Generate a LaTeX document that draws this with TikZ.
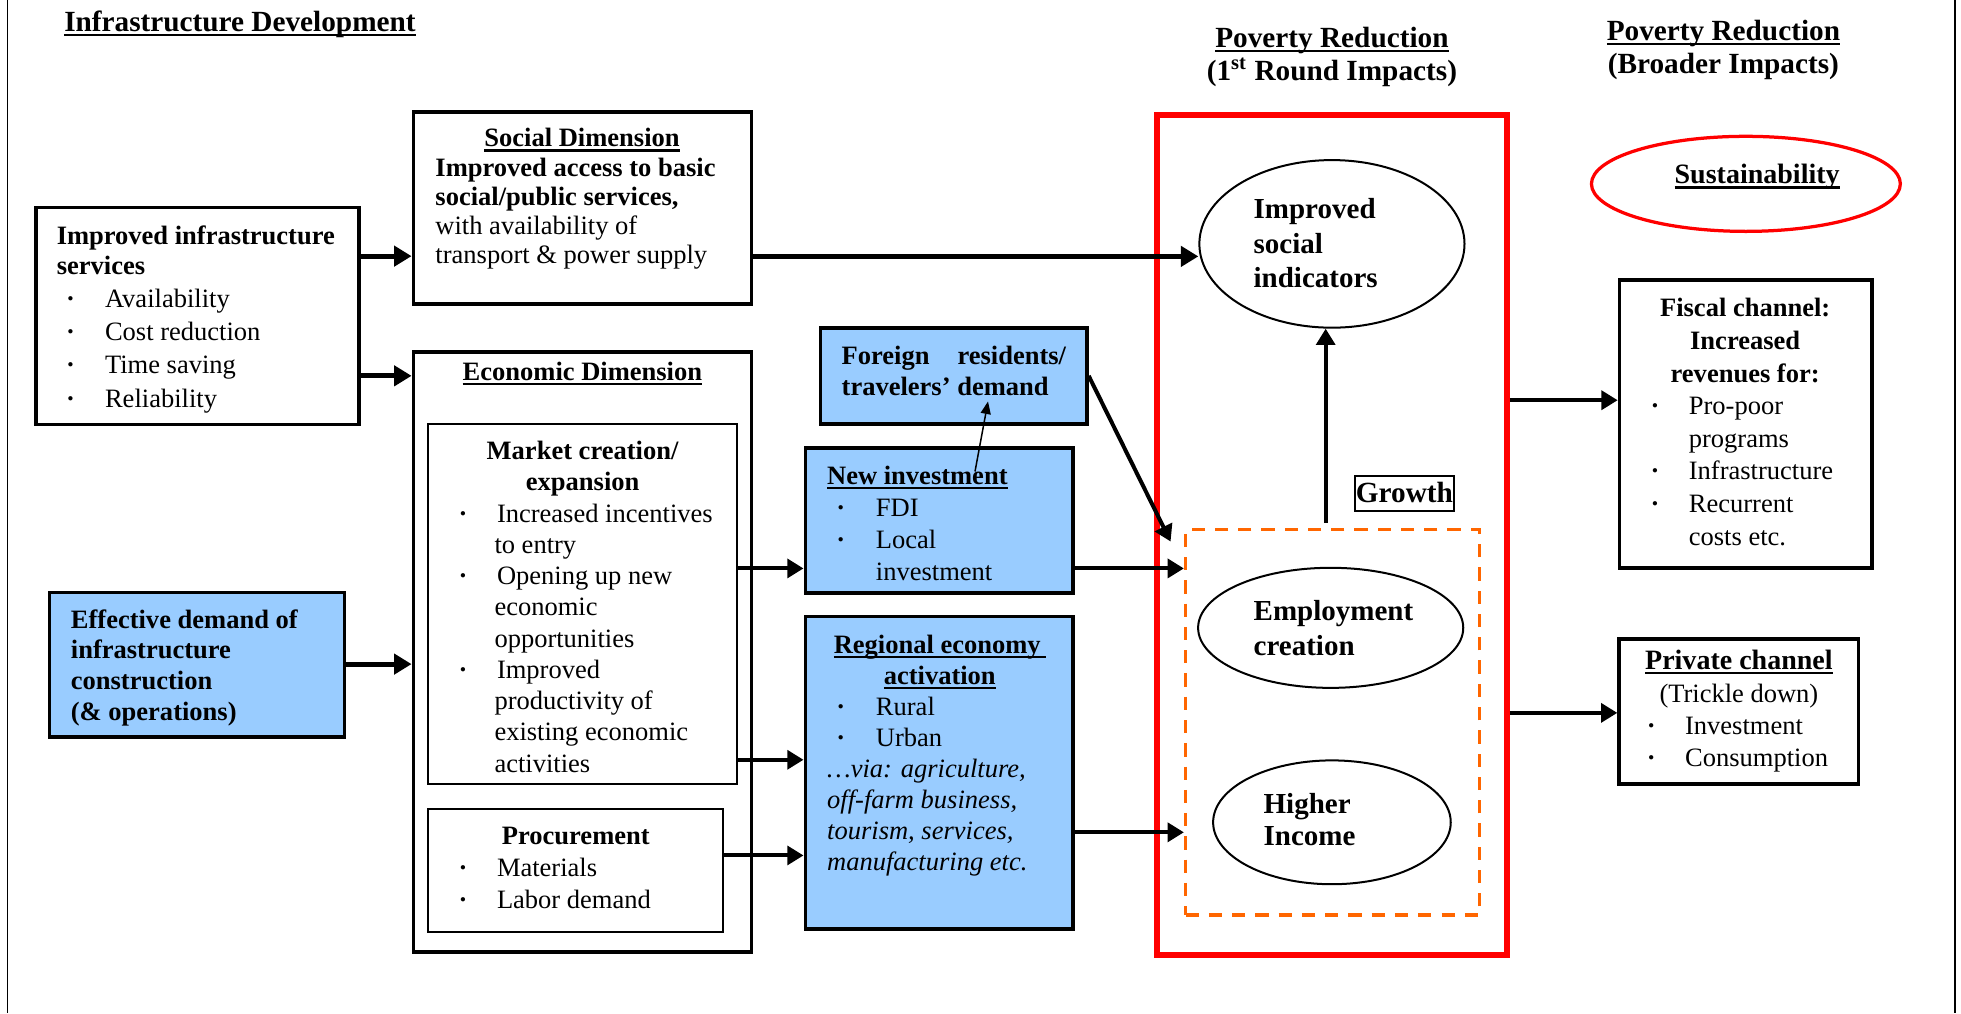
\documentclass[tikz,border=0pt]{standalone}
\usepackage{fontspec}
\setmainfont{Liberation Serif}
\usetikzlibrary{arrows.meta,fit,shapes.geometric}
\newsavebox\ulbox
\newcommand\myul[1]{\sbox\ulbox{#1}\rlap{\rule[-1.9pt]{\wd\ulbox}{0.9pt}}\usebox\ulbox}
\definecolor{lblue}{HTML}{99CCFF}
\definecolor{dorange}{HTML}{FF6600}
\newcommand\tst{\rule{0pt}{9pt}}
\newcommand\bli[3]{\hspace*{#1}\makebox[#2][l]{{\bfseries ·}}#3}
\tikzset{
  x=0.5pt, y=-0.5pt,
  bx/.style={draw, line width=1.5pt, inner sep=0pt},
  thinbx/.style={draw, line width=0.8pt, inner sep=0pt},
  txt/.style={inner sep=0pt, anchor=north west, align=left},
  ctxt/.style={inner sep=0pt, anchor=north, align=center},
  fsz/.style={font=\fontsize{10.6}{#1}\selectfont},
  arrA/.style={line width=2pt, -{Triangle[length=7pt,width=8pt]}},
  arrB/.style={line width=1.6pt, -{Triangle[length=6.5pt,width=7.5pt]}},
  arrC/.style={line width=0.6pt, -{Triangle[length=5pt,width=4pt]}},
  ell/.style={draw, ellipse, line width=0.8pt, inner sep=0pt},
}
\begin{document}
\begin{tikzpicture}
\useasboundingbox (0,0) rectangle (1568,810);
% page side lines
\draw[line width=0.7pt] (5.9,0) -- (5.9,810);
\draw[line width=0.7pt] (1563,0) -- (1563,810);

% headers
\node[txt, font=\fontsize{11.7}{13.25}\selectfont\bfseries] (hInfra) at (51,6.5) {\tst\myul{Infrastructure Development}};
\node[ctxt, font=\fontsize{11.7}{13.25}\selectfont\bfseries] (hPov1) at (1065,19.5) {\tst\myul{Poverty Reduction}\\(1\textsuperscript{st} Round Impacts)};
\node[ctxt, font=\fontsize{11.7}{13.25}\selectfont\bfseries] (hPov2) at (1378,14) {\tst\myul{Poverty Reduction}\\(Broader Impacts)};

% improved infrastructure services
\node[bx, fit={(28.6,166) (287,339.5)}] (infra) {};
\node[txt, fsz=13.3] (infraT) at (45,176.7) {\tst\textbf{Improved infrastructure}\\[-1.3pt]
 \textbf{services}\\
 \bli{3.7pt}{15.6pt}{Availability}\\
 \bli{3.7pt}{15.6pt}{Cost reduction}\\
 \bli{3.7pt}{15.6pt}{Time saving}\\
 \bli{3.7pt}{15.6pt}{Reliability}};

% effective demand
\node[bx, fill=lblue, fit={(39.6,473.75) (275.5,589.4)}] (eff) {};
\node[txt, font=\fontsize{10.6}{12.25}\selectfont\bfseries] (effT) at (56.3,484) {\tst Effective demand of\\infrastructure\\construction\\(\& operations)};

% social dimension
\node[bx, fit={(330.6,89.3) (600.8,243)}] (social) {};
\node[txt, fsz=11.7] (socialT) at (347.8,99) {\tst\makebox[117.2pt][c]{\textbf{\myul{Social Dimension}}}\\
 \textbf{Improved access to basic}\\
 \textbf{social/public services,}\\
 with availability of\\
 transport \& power supply};

% economic dimension
\node[bx, fit={(330.6,281.3) (600.8,761)}] (econ) {};
\node[ctxt, font=\fontsize{10.6}{13}\selectfont\bfseries] (econT) at (465.7,286) {\tst\myul{Economic Dimension}};

\node[thinbx, fit={(342,339.4) (589,627)}] (market) {};
\node[txt, fsz=12.5] (marketT) at (366.4,349) {\tst\makebox[99.1pt][c]{\textbf{Market creation/}}\\
 \makebox[99.1pt][c]{\textbf{expansion}}\\
 \bli{0pt}{15.3pt}{Increased incentives}\\
 \hspace*{14.3pt}to entry\\
 \bli{0pt}{15.3pt}{Opening up new}\\
 \hspace*{14.3pt}economic\\
 \hspace*{14.3pt}opportunities\\
 \bli{0pt}{15.3pt}{Improved}\\
 \hspace*{14.3pt}productivity of\\
 \hspace*{14.3pt}existing economic\\
 \hspace*{14.3pt}activities};

\node[thinbx, fit={(342,646.6) (578,745.6)}] (proc) {};
\node[txt, fsz=12.8] (procT) at (366.4,656.7) {\tst\makebox[93.6pt][c]{\textbf{Procurement}}\\
 \bli{0pt}{15.3pt}{Materials}\\
 \bli{0pt}{15.3pt}{Labor demand}};

% blue middle boxes
\node[bx, fill=lblue, fit={(656,262) (869,339)}] (foreign) {};
\node[txt, font=\fontsize{10.6}{12.5}\selectfont\bfseries] (foreignT) at (672.6,273) {\tst\makebox[89.7pt][s]{Foreign\hfill residents/}\\travelers’ demand};

\node[bx, fill=lblue, fit={(644,358) (858,474)}] (newinv) {};
\node[txt, fsz=12.85] (newinvT) at (661,369) {\tst\textbf{\myul{New investment}}\\
 \bli{3.7pt}{15.8pt}{FDI}\\
 \bli{3.7pt}{15.8pt}{Local}\\
 \hspace*{19.5pt}investment};

\node[bx, fill=lblue, fit={(644,493) (858,743)}] (regional) {};
\node[txt, fsz=12.43] (regionalT) at (661,504) {\tst\makebox[90pt][c]{\textbf{\myul{Regional economy\hspace{2pt}}}}\\
 \makebox[90pt][c]{\textbf{\myul{activation}}}\\
 \bli{3.7pt}{15.8pt}{Rural}\\
 \bli{3.7pt}{15.8pt}{Urban}\\
 \textit{…via: agriculture,}\\
 \textit{off-farm business,}\\
 \textit{tourism, services,}\\
 \textit{manufacturing etc.}};

% poverty reduction first round
\node[draw=red, line width=2.2pt, inner sep=0pt, fit={(925,92) (1205,763.6)}] (redbox) {};
\node[draw=dorange, line width=1.35pt, dash pattern=on 5.3pt off 4pt, inner sep=0pt, fit={(948,423.6) (1183,731.5)}] (growthbox) {};

\node[ell, minimum width=106pt, minimum height=67pt] (socE) at (1065,195) {};
\node[txt, font=\fontsize{11.6}{13.6}\selectfont\bfseries] (socET) at (1002,156.7) {\tst Improved\\social\\indicators};

\node[ell, minimum width=106pt, minimum height=48pt] (empE) at (1064,502) {};
\node[txt, font=\fontsize{11.6}{13.8}\selectfont\bfseries] (empET) at (1002,478) {\tst Employment\\creation};

\node[ell, minimum width=95pt, minimum height=49.5pt] (incE) at (1065,657.5) {};
\node[txt, font=\fontsize{11.6}{13}\selectfont\bfseries] (incET) at (1010,632) {\tst Higher\\Income};

\node[draw, line width=0.75pt, inner xsep=0.3pt, inner ysep=1pt, text height=9.5pt, text depth=2.5pt, font=\fontsize{11.7}{13}\selectfont\bfseries, anchor=north] (growth) at (1123,380) {Growth};

% broader impacts
\node[ell, draw=red, line width=1.3pt, minimum width=123.5pt, minimum height=38pt] (sustE) at (1396,147) {};
\node[ctxt, font=\fontsize{11.2}{13}\selectfont\bfseries] (sustT) at (1405,128.7) {\tst\myul{Sustainability}};

\node[bx, fit={(1295,224) (1497,454.4)}] (fiscal) {};
\node[txt, fsz=13.03] (fiscalT) at (1319.4,235) {\tst\makebox[75.6pt][c]{\textbf{Fiscal channel:}}\\
 \makebox[75.6pt][c]{\textbf{Increased}}\\
 \makebox[75.6pt][c]{\textbf{revenues for:}}\\
 \bli{0pt}{15.3pt}{Pro-poor}\\
 \hspace*{15.3pt}programs\\
 \bli{0pt}{15.3pt}{Infrastructure}\\
 \bli{0pt}{15.3pt}{Recurrent}\\
 \hspace*{15.3pt}costs etc.};

\node[bx, fit={(1294.7,511) (1486,626.8)}] (private) {};
\node[txt, fsz=12.95] (privateT) at (1316.4,517) {\tst\makebox[73.6pt][c]{\fontsize{11.2}{12.95}\selectfont\bfseries\myul{Private channel}}\\
 \makebox[73.6pt][c]{(Trickle down)}\\
 \bli{0pt}{15.3pt}{Investment}\\
 \bli{0pt}{15.3pt}{Consumption}};

% connectors
\coordinate (yA) at (0,204.8);
\coordinate (yB) at (0,300.5);
\coordinate (yC) at (0,531);
\coordinate (yD) at (0,205);
\coordinate (yE) at (0,454.5);
\coordinate (yF) at (0,607.5);
\coordinate (yG) at (0,684);
\coordinate (yH) at (0,665.5);
\coordinate (yI) at (0,320);
\coordinate (yJ) at (0,570);
\coordinate (diagEnd) at (936,433);
\coordinate (gStart) at (1060,418);
\coordinate (tA) at (779.6,377);
\coordinate (tB) at (790,321);

\draw[arrA] (infra.east |- yA) -- (social.west |- yA);
\draw[arrA] (infra.east |- yB) -- (econ.west |- yB);
\draw[arrA] (eff.east |- yC) -- (econ.west |- yC);
\draw[arrA] (social.east |- yD) -- (socE.west |- yD);
\draw[arrB] (market.east |- yE) -- (newinv.west |- yE);
\draw[arrB] (market.east |- yF) -- (regional.west |- yF);
\draw[arrB] (proc.east |- yG) -- (regional.west |- yG);
\draw[arrB] (newinv.east |- yE) -- (growthbox.west |- yE);
\draw[arrB] (regional.east |- yH) -- (growthbox.west |- yH);
\draw[arrB] (foreign.east) -- (diagEnd);
\draw[arrB] (gStart) -- (gStart |- socE.south);
\draw[arrB] (redbox.east |- yI) -- (fiscal.west |- yI);
\draw[arrB] (redbox.east |- yJ) -- (private.west |- yJ);
\draw[arrC] (tA) -- (tB);
\end{tikzpicture}
\end{document}
